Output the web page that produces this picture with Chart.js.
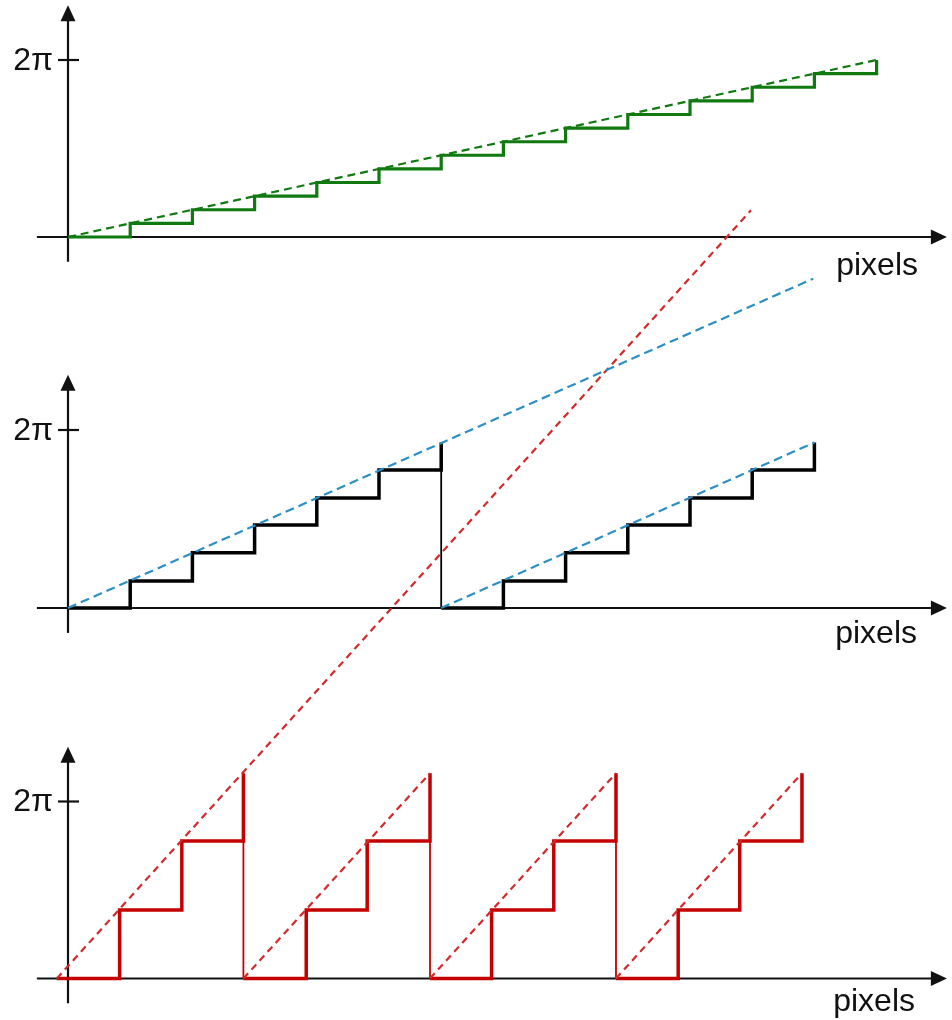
<!DOCTYPE html>
<html>
<head>
<meta charset="utf-8">
<title>Phase steps</title>
<script src="https://cdn.jsdelivr.net/npm/chart.js@4.4.1/dist/chart.umd.min.js"></script>
<style>
  html, body { margin: 0; padding: 0; background: #fff; }
  canvas { display: block; }
</style>
</head>
<body>
<canvas id="phaseChart" width="952" height="1020"></canvas>
<script>
// x = pixel index, y = phase in cycles (1 = 2π)

// top: small phase step per pixel
const topPixels = [0, 1, 2, 3, 4, 5, 6, 7, 8, 9, 10, 11, 12, 13];
const topPhase  = [0, 0.077, 0.154, 0.231, 0.308, 0.385, 0.462, 0.538, 0.615, 0.692, 0.769, 0.846, 0.923, 1.0];
const topRampX  = [0, 13];
const topRampY  = [0, 1.0];

// middle: bigger step, wraps once
const midPixels = [0, 1, 2, 3, 4, 5, 6, 6, 7, 8, 9, 10, 11, 12];
const midPhase  = [0, 0.152, 0.31, 0.466, 0.618, 0.775, 0.93, 0, 0.152, 0.31, 0.466, 0.618, 0.775, 0.93];
const midRampLongX  = [0, 11.98];
const midRampLongY  = [0, 1.85];
const midRampShortX = [6, 12];
const midRampShortY = [0, 0.93];

// bottom: large step, wraps every 3 pixels
const botPixels = [-0.18, 0.83, 1.83, 2.82, 2.82, 3.83, 4.81, 5.82, 5.82, 6.81, 7.81, 8.81, 8.81, 9.81, 10.8, 11.8];
const botPhase  = [0, 0.387, 0.777, 1.16, 0, 0.387, 0.777, 1.16, 0, 0.387, 0.777, 1.16, 0, 0.387, 0.777, 1.16];
const botRampLongX = [-0.18, 10.98];
const botRampLongY = [0, 4.34];
const botRampStarts = [2.82, 5.82, 8.81];
const botRampEnds   = [5.82, 8.81, 11.8];
const botRampTop    = 1.16;

const tickLabel = '2π';
const axisLabel = 'pixels';

// layout of the three panels (canvas pixels)
const W = 952, H = 1020;
const originX = 68, stepPx = 62.2;
const panels = [
    { id: 'yTop', base: 237, perCycle: 177, labelX: 918, labelDy: 38 },
    { id: 'yMid', base: 608, perCycle: 178, labelX: 917, labelDy: 35 },
    { id: 'yBot', base: 978.5, perCycle: 177, labelX: 915, labelDy: 32 }
];

const GREEN = '#107a10';
const RED = '#c40000';
const RED_DASH = '#d22a2a';
const BLUE = '#2b8fc6';

function pts(xs, ys) {
    return xs.map((x, i) => ({ x: x, y: ys[i] }));
}

function dashed(data, color, yID, dash) {
    return {
        data: data, yAxisID: yID, borderColor: color, borderWidth: 2.2,
        borderDash: dash, pointRadius: 0, fill: false, order: 0
    };
}

function staircase(data, color, yID, width) {
    return {
        data: data, yAxisID: yID, borderColor: color, borderWidth: width,
        stepped: true, pointRadius: 0, fill: false, order: 1,
        borderJoinStyle: 'miter',
        segment: {
            // the wrap-around drops are drawn thinner
            borderWidth: c => c.p0.parsed.x === c.p1.parsed.x ? 1.8 : width
        }
    };
}

const datasets = [
    dashed(pts(topRampX, topRampY), GREEN, 'yTop', [8, 5]),
    dashed(pts(midRampLongX, midRampLongY), BLUE, 'yMid', [9, 5]),
    dashed(pts(midRampShortX, midRampShortY), BLUE, 'yMid', [9, 5]),
    dashed(pts(botRampLongX, botRampLongY), RED_DASH, 'yBot', [7, 5]),
    ...botRampStarts.map((s, i) =>
        dashed(pts([s, botRampEnds[i]], [0, botRampTop]), RED_DASH, 'yBot', [7, 5])),
    staircase(pts(topPixels, topPhase), GREEN, 'yTop', 3.2),
    staircase(pts(midPixels, midPhase), '#000000', 'yMid', 3.5),
    staircase(pts(botPixels, botPhase), RED, 'yBot', 3.5)
];

// every y scale spans the full canvas; min/max place its zero line
const scales = {
    x: { type: 'linear', display: false, min: -originX / stepPx, max: (W - originX) / stepPx }
};
panels.forEach(p => {
    scales[p.id] = {
        type: 'linear', display: false,
        min: -(H - p.base) / p.perCycle, max: p.base / p.perCycle
    };
});

// axes with arrows, 2π tick and "pixels" label
const axesPlugin = {
    id: 'axesPlugin',
    beforeDatasetsDraw(chart) {
        const ctx = chart.ctx;
        const xs = chart.scales.x;
        ctx.save();
        ctx.strokeStyle = '#111';
        ctx.fillStyle = '#111';
        ctx.lineWidth = 2.2;
        ctx.font = '32px "Liberation Sans", Arial, sans-serif';

        panels.forEach(p => {
            const ys = chart.scales[p.id];
            const x0 = xs.getPixelForValue(0);
            const y0 = ys.getPixelForValue(0);
            const xStart = xs.getPixelForValue(-0.5);
            const xEnd = xs.getPixelForValue(14.13);
            const yBottom = ys.getPixelForValue(-0.14);
            const yTop = ys.getPixelForValue(1.31);
            const y2pi = ys.getPixelForValue(1);

            // x axis
            ctx.beginPath();
            ctx.moveTo(xStart, y0);
            ctx.lineTo(xEnd - 12, y0);
            ctx.stroke();
            ctx.beginPath();
            ctx.moveTo(xEnd, y0);
            ctx.lineTo(xEnd - 16, y0 - 7.5);
            ctx.lineTo(xEnd - 16, y0 + 7.5);
            ctx.closePath();
            ctx.fill();

            // y axis
            ctx.beginPath();
            ctx.moveTo(x0, yBottom);
            ctx.lineTo(x0, yTop + 12);
            ctx.stroke();
            ctx.beginPath();
            ctx.moveTo(x0, yTop);
            ctx.lineTo(x0 - 7.5, yTop + 16);
            ctx.lineTo(x0 + 7.5, yTop + 16);
            ctx.closePath();
            ctx.fill();

            // 2π tick
            ctx.beginPath();
            ctx.moveTo(x0 - 10, y2pi);
            ctx.lineTo(x0 + 11, y2pi);
            ctx.stroke();

            ctx.textAlign = 'right';
            ctx.textBaseline = 'middle';
            ctx.fillText(tickLabel, x0 - 15, y2pi + 1);

            ctx.textBaseline = 'alphabetic';
            ctx.fillText(axisLabel, p.labelX, y0 + p.labelDy);
        });
        ctx.restore();
    }
};

new Chart(document.getElementById('phaseChart').getContext('2d'), {
    type: 'line',
    data: { datasets: datasets },
    options: {
        responsive: false,
        animation: false,
        layout: { padding: 0 },
        scales: scales,
        plugins: {
            legend: { display: false },
            tooltip: { enabled: false }
        }
    },
    plugins: [axesPlugin]
});
</script>
</body>
</html>
